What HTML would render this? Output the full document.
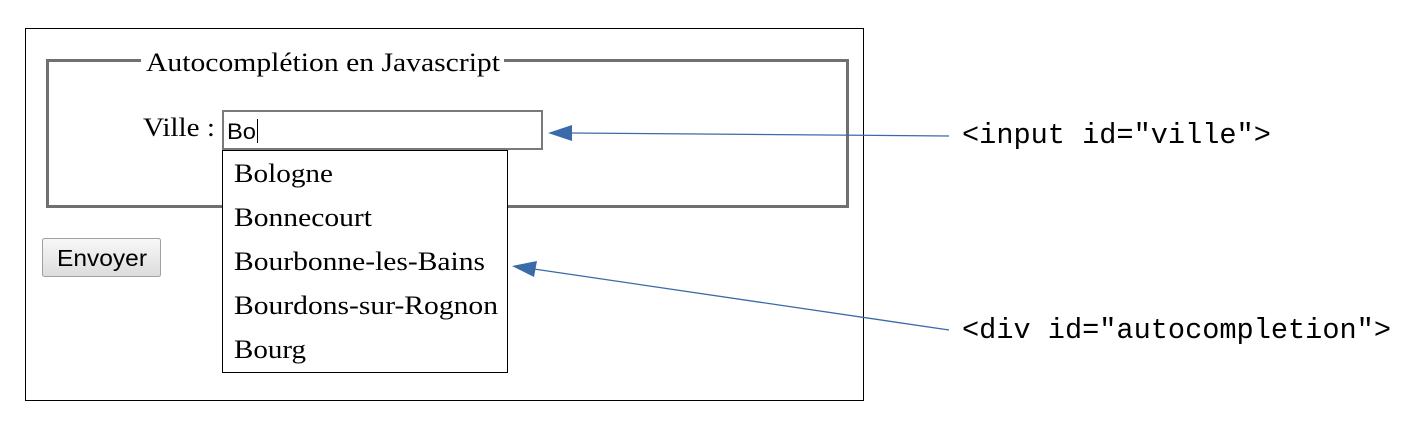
<!DOCTYPE html>
<html><head><meta charset="utf-8"><style>html,body{margin:0;padding:0;background:#fff}</style></head>
<body>
<svg width="1413" height="426" xmlns="http://www.w3.org/2000/svg" style="display:block">
<rect x="0" y="0" width="1413" height="426" fill="#fff"/>
<rect x="25.5" y="28.5" width="838" height="372" fill="#fff" stroke="#000" stroke-width="1"/>
<rect x="47.5" y="60.5" width="800" height="146" fill="none" stroke="#707070" stroke-width="3"/>
<rect x="141" y="50" width="363" height="22" fill="#fff"/>
<g font-family="Liberation Serif, serif" font-size="26" fill="#000" lengthAdjust="spacingAndGlyphs">
<text x="146" y="71" textLength="354" lengthAdjust="spacingAndGlyphs">Autocomplétion en Javascript</text>
<text x="143" y="136" textLength="72" lengthAdjust="spacingAndGlyphs">Ville :</text>
</g>
<rect x="223" y="111" width="319" height="38" fill="#fff" stroke="#7a7a7a" stroke-width="2"/>
<text x="227" y="139" font-family="Liberation Sans, sans-serif" font-size="22" fill="#000" textLength="29" lengthAdjust="spacingAndGlyphs">Bo</text>
<line x1="257.5" y1="119" x2="257.5" y2="143" stroke="#000" stroke-width="1"/>
<rect x="222.5" y="150.5" width="285" height="222" fill="#fff" stroke="#000" stroke-width="1"/>
<g font-family="Liberation Serif, serif" font-size="26" fill="#000">
<text x="234" y="182" textLength="99" lengthAdjust="spacingAndGlyphs">Bologne</text>
<text x="234" y="226" textLength="138" lengthAdjust="spacingAndGlyphs">Bonnecourt</text>
<text x="234" y="270" textLength="251" lengthAdjust="spacingAndGlyphs">Bourbonne-les-Bains</text>
<text x="234" y="314" textLength="264" lengthAdjust="spacingAndGlyphs">Bourdons-sur-Rognon</text>
<text x="234" y="358" textLength="72" lengthAdjust="spacingAndGlyphs">Bourg</text>
</g>
<defs><linearGradient id="g" x1="0" y1="0" x2="0" y2="1"><stop offset="0" stop-color="#f8f8f8"/><stop offset="1" stop-color="#dcdcdc"/></linearGradient></defs>
<rect x="42.5" y="238.5" width="118" height="38" rx="2" fill="url(#g)" stroke="#a0a0a0" stroke-width="1"/>
<text x="57" y="266" font-family="Liberation Sans, sans-serif" font-size="23" fill="#000" textLength="90" lengthAdjust="spacingAndGlyphs">Envoyer</text>
<line x1="949" y1="136" x2="570" y2="133" stroke="#3a6aa8" stroke-width="1.3"/>
<polygon points="548,133 572,125 572,141" fill="#3a6aa8"/>
<line x1="949" y1="330" x2="534" y2="269" stroke="#3a6aa8" stroke-width="1.3"/>
<polygon points="512,266 537,261 534,277" fill="#3a6aa8"/>
<g font-family="Liberation Mono, monospace" font-size="28.6" fill="#000">
<text x="962" y="143">&lt;input id="ville"&gt;</text>
<text x="962" y="338">&lt;div id="autocompletion"&gt;</text>
</g>
</svg>
</body></html>
